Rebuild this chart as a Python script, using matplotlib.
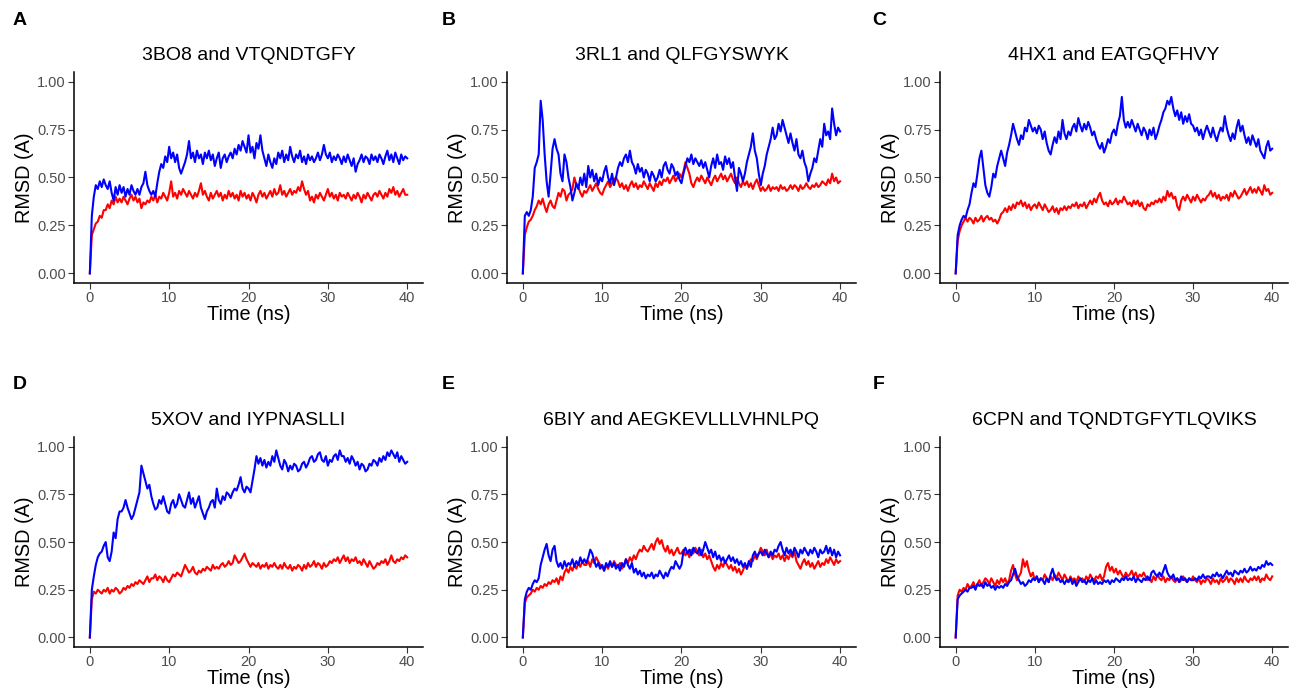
import numpy as np
import matplotlib.pyplot as plt

plt.rcParams['font.family'] = ['Liberation Sans', 'DejaVu Sans']

# time grid, 0.25 ns steps
t = np.linspace(0, 40, 161)

letters = ['A', 'B', 'C', 'D', 'E', 'F']
titles = ['3BO8 and VTQNDTGFY', '3RL1 and QLFGYSWYK', '4HX1 and EATGQFHVY',
          '5XOV and IYPNASLLI', '6BIY and AEGKEVLLLVHNLPQ', '6CPN and TQNDTGFYTLQVIKS']
yticks = [0.00, 0.25, 0.50, 0.75, 1.00]
ytick_labels = ['0.00', '0.25', '0.50', '0.75', '1.00']
xticks = [0, 10, 20, 30, 40]

# panel A
a_blue = [0.00, 0.30, 0.40, 0.46, 0.44, 0.48, 0.45, 0.49,
          0.46, 0.44, 0.48, 0.42, 0.38, 0.45, 0.41, 0.46,
          0.42, 0.45, 0.40, 0.44, 0.41, 0.46, 0.43, 0.41,
          0.44, 0.41, 0.45, 0.47, 0.53, 0.46, 0.43, 0.41,
          0.43, 0.40, 0.47, 0.53, 0.57, 0.55, 0.61, 0.58,
          0.66, 0.60, 0.63, 0.58, 0.62, 0.55, 0.52, 0.55,
          0.58, 0.62, 0.69, 0.60, 0.63, 0.58, 0.64, 0.60,
          0.62, 0.57, 0.63, 0.60, 0.64, 0.59, 0.62, 0.56,
          0.60, 0.63, 0.55, 0.60, 0.62, 0.58, 0.61, 0.63,
          0.60, 0.65, 0.62, 0.67, 0.64, 0.69, 0.66, 0.63,
          0.72, 0.63, 0.66, 0.60, 0.68, 0.65, 0.72, 0.64,
          0.60, 0.56, 0.62, 0.58, 0.55, 0.60, 0.57, 0.63,
          0.60, 0.64, 0.58, 0.62, 0.59, 0.66, 0.61, 0.58,
          0.62, 0.60, 0.64, 0.58, 0.61, 0.57, 0.62, 0.59,
          0.61, 0.58, 0.60, 0.63, 0.59, 0.62, 0.67, 0.62,
          0.60, 0.63, 0.58, 0.61, 0.59, 0.62, 0.60, 0.57,
          0.61, 0.58, 0.62, 0.59, 0.56, 0.60, 0.53, 0.57,
          0.59, 0.62, 0.58, 0.61, 0.60, 0.57, 0.62, 0.59,
          0.61, 0.58, 0.62, 0.60, 0.57, 0.61, 0.64, 0.59,
          0.62, 0.58, 0.63, 0.60, 0.57, 0.62, 0.59, 0.61,
          0.60]
a_red = [0.00, 0.20, 0.23, 0.26, 0.27, 0.30, 0.29, 0.33,
         0.33, 0.36, 0.34, 0.38, 0.36, 0.40, 0.37, 0.39,
         0.37, 0.40, 0.38, 0.36, 0.39, 0.41, 0.38, 0.40,
         0.37, 0.39, 0.34, 0.37, 0.36, 0.38, 0.37, 0.40,
         0.38, 0.41, 0.37, 0.40, 0.39, 0.42, 0.40, 0.38,
         0.42, 0.48, 0.40, 0.42, 0.39, 0.43, 0.41, 0.44,
         0.42, 0.40, 0.43, 0.41, 0.39, 0.42, 0.40, 0.43,
         0.47, 0.41, 0.43, 0.40, 0.38, 0.42, 0.39, 0.41,
         0.43, 0.40, 0.42, 0.38, 0.41, 0.39, 0.43, 0.40,
         0.42, 0.39, 0.41, 0.38, 0.43, 0.40, 0.42, 0.39,
         0.41, 0.38, 0.42, 0.40, 0.37, 0.41, 0.43, 0.40,
         0.42, 0.39, 0.41, 0.43, 0.40, 0.44, 0.41, 0.42,
         0.46, 0.41, 0.43, 0.40, 0.42, 0.44, 0.41, 0.43,
         0.42, 0.45, 0.43, 0.48, 0.44, 0.41, 0.43, 0.38,
         0.40, 0.37, 0.41, 0.39, 0.42, 0.40, 0.38, 0.41,
         0.44, 0.40, 0.42, 0.39, 0.41, 0.38, 0.42, 0.40,
         0.41, 0.39, 0.42, 0.40, 0.38, 0.41, 0.39, 0.42,
         0.40, 0.37, 0.41, 0.39, 0.42, 0.40, 0.38, 0.41,
         0.42, 0.40, 0.43, 0.41, 0.39, 0.42, 0.40, 0.44,
         0.42, 0.45, 0.41, 0.43, 0.40, 0.42, 0.44, 0.41,
         0.41]

# panel B
b_blue = [0.00, 0.30, 0.32, 0.30, 0.33, 0.40, 0.55, 0.58,
          0.62, 0.90, 0.80, 0.62, 0.48, 0.40, 0.52, 0.65,
          0.70, 0.65, 0.62, 0.52, 0.48, 0.62, 0.58, 0.50,
          0.45, 0.38, 0.42, 0.47, 0.44, 0.50, 0.46, 0.52,
          0.45, 0.56, 0.50, 0.54, 0.48, 0.52, 0.46, 0.50,
          0.48, 0.53, 0.56, 0.50, 0.47, 0.52, 0.46, 0.50,
          0.55, 0.58, 0.56, 0.60, 0.62, 0.58, 0.64, 0.58,
          0.56, 0.52, 0.57, 0.53, 0.55, 0.50, 0.54, 0.52,
          0.48, 0.53, 0.51, 0.48, 0.50, 0.54, 0.50, 0.56,
          0.58, 0.54, 0.52, 0.57, 0.55, 0.51, 0.53, 0.49,
          0.47, 0.52, 0.56, 0.60, 0.58, 0.62, 0.57, 0.60,
          0.58, 0.56, 0.59, 0.55, 0.58, 0.54, 0.50, 0.56,
          0.60, 0.55, 0.62, 0.57, 0.58, 0.54, 0.61, 0.57,
          0.60, 0.55, 0.58, 0.50, 0.43, 0.55, 0.52, 0.48,
          0.52, 0.58, 0.62, 0.66, 0.73, 0.64, 0.60, 0.52,
          0.46, 0.52, 0.56, 0.62, 0.66, 0.70, 0.76, 0.70,
          0.72, 0.78, 0.74, 0.80, 0.76, 0.72, 0.68, 0.73,
          0.68, 0.64, 0.70, 0.62, 0.60, 0.64, 0.58, 0.55,
          0.48, 0.52, 0.55, 0.60, 0.58, 0.64, 0.70, 0.66,
          0.78, 0.72, 0.74, 0.70, 0.86, 0.78, 0.72, 0.76,
          0.74]
b_red = [0.00, 0.20, 0.24, 0.27, 0.28, 0.30, 0.33, 0.35,
         0.38, 0.36, 0.39, 0.35, 0.32, 0.36, 0.38, 0.35,
         0.34, 0.38, 0.42, 0.40, 0.44, 0.43, 0.38, 0.41,
         0.42, 0.44, 0.50, 0.46, 0.45, 0.42, 0.40, 0.43,
         0.42, 0.44, 0.46, 0.43, 0.45, 0.47, 0.44, 0.42,
         0.41, 0.44, 0.46, 0.48, 0.45, 0.47, 0.49, 0.50,
         0.48, 0.45, 0.47, 0.44, 0.46, 0.43, 0.46, 0.48,
         0.45, 0.47, 0.44, 0.46, 0.45, 0.48, 0.46, 0.44,
         0.47, 0.45, 0.43, 0.47, 0.45, 0.48, 0.46, 0.49,
         0.48, 0.50, 0.47, 0.49, 0.51, 0.48, 0.50, 0.52,
         0.50, 0.53, 0.58, 0.55, 0.52, 0.47, 0.45, 0.48,
         0.50, 0.48, 0.51, 0.49, 0.47, 0.50, 0.48, 0.46,
         0.49, 0.51, 0.48, 0.50, 0.52, 0.49, 0.51, 0.48,
         0.50, 0.52, 0.49, 0.47, 0.50, 0.47, 0.45, 0.48,
         0.46, 0.48, 0.45, 0.47, 0.44, 0.47, 0.49, 0.46,
         0.43, 0.45, 0.43, 0.44, 0.46, 0.43, 0.45, 0.44,
         0.45, 0.43, 0.46, 0.44, 0.45, 0.43, 0.44, 0.46,
         0.44, 0.46, 0.45, 0.43, 0.46, 0.44, 0.45, 0.47,
         0.45, 0.44, 0.46, 0.45, 0.47, 0.45, 0.46, 0.48,
         0.47, 0.46, 0.49, 0.47, 0.52, 0.48, 0.50, 0.47,
         0.48]

# panel C
c_blue = [0.00, 0.20, 0.25, 0.28, 0.30, 0.29, 0.33, 0.36,
          0.42, 0.47, 0.45, 0.52, 0.60, 0.64, 0.55, 0.46,
          0.42, 0.40, 0.45, 0.52, 0.50, 0.56, 0.60, 0.64,
          0.60, 0.56, 0.63, 0.67, 0.72, 0.78, 0.74, 0.70,
          0.67, 0.72, 0.70, 0.76, 0.74, 0.80, 0.77, 0.74,
          0.76, 0.73, 0.77, 0.75, 0.70, 0.74, 0.68, 0.64,
          0.62, 0.67, 0.71, 0.68, 0.74, 0.70, 0.80, 0.73,
          0.70, 0.74, 0.72, 0.76, 0.78, 0.74, 0.81, 0.77,
          0.74, 0.78, 0.75, 0.79, 0.76, 0.72, 0.74, 0.70,
          0.67, 0.65, 0.68, 0.63, 0.66, 0.70, 0.68, 0.73,
          0.75, 0.72, 0.78, 0.82, 0.92, 0.80, 0.76, 0.79,
          0.76, 0.80, 0.77, 0.74, 0.78, 0.75, 0.72, 0.76,
          0.74, 0.70, 0.75, 0.72, 0.76, 0.70, 0.73, 0.77,
          0.80, 0.84, 0.86, 0.90, 0.88, 0.92, 0.86, 0.82,
          0.85, 0.80, 0.84, 0.78, 0.82, 0.79, 0.83, 0.78,
          0.77, 0.74, 0.76, 0.72, 0.75, 0.70, 0.74, 0.77,
          0.74, 0.71, 0.76, 0.72, 0.69, 0.73, 0.76, 0.74,
          0.82, 0.76, 0.72, 0.69, 0.73, 0.70, 0.76, 0.80,
          0.74, 0.77, 0.72, 0.68, 0.71, 0.67, 0.72, 0.69,
          0.66, 0.70, 0.64, 0.62, 0.60, 0.66, 0.69, 0.64,
          0.65]
c_red = [0.00, 0.17, 0.22, 0.25, 0.27, 0.29, 0.27, 0.29,
         0.28, 0.26, 0.29, 0.27, 0.28, 0.30, 0.27, 0.29,
         0.30, 0.28, 0.29, 0.27, 0.28, 0.26, 0.28, 0.31,
         0.32, 0.34, 0.32, 0.35, 0.33, 0.36, 0.34, 0.37,
         0.36, 0.38, 0.35, 0.37, 0.34, 0.36, 0.33, 0.35,
         0.36, 0.34, 0.37, 0.35, 0.33, 0.36, 0.34, 0.32,
         0.33, 0.35, 0.32, 0.34, 0.31, 0.34, 0.33, 0.35,
         0.33, 0.35, 0.34, 0.36, 0.35, 0.37, 0.34, 0.36,
         0.35, 0.37, 0.34, 0.36, 0.38, 0.36, 0.39, 0.37,
         0.40, 0.42, 0.38, 0.36, 0.37, 0.35, 0.38, 0.36,
         0.37, 0.39, 0.36, 0.38, 0.37, 0.40, 0.38, 0.36,
         0.37, 0.35, 0.38, 0.36, 0.38, 0.35, 0.37, 0.34,
         0.33, 0.36, 0.35, 0.37, 0.36, 0.38, 0.37, 0.39,
         0.37, 0.40, 0.38, 0.43, 0.40, 0.42, 0.39, 0.40,
         0.35, 0.33, 0.38, 0.40, 0.38, 0.41, 0.39, 0.37,
         0.40, 0.38, 0.41, 0.39, 0.37, 0.39, 0.38, 0.40,
         0.41, 0.43, 0.40, 0.42, 0.39, 0.41, 0.38, 0.40,
         0.39, 0.41, 0.38, 0.42, 0.40, 0.43, 0.41, 0.39,
         0.40, 0.42, 0.44, 0.41, 0.43, 0.45, 0.42, 0.44,
         0.42, 0.45, 0.43, 0.41, 0.46, 0.43, 0.44, 0.41,
         0.42]

# panel D
d_blue = [0.00, 0.25, 0.32, 0.38, 0.42, 0.44, 0.45, 0.48,
          0.50, 0.42, 0.40, 0.45, 0.55, 0.52, 0.62, 0.66,
          0.66, 0.68, 0.72, 0.68, 0.65, 0.62, 0.64, 0.68,
          0.72, 0.76, 0.90, 0.86, 0.82, 0.78, 0.80, 0.74,
          0.70, 0.67, 0.68, 0.72, 0.70, 0.74, 0.70, 0.66,
          0.65, 0.70, 0.72, 0.68, 0.70, 0.75, 0.72, 0.69,
          0.68, 0.72, 0.76, 0.70, 0.73, 0.68, 0.71, 0.74,
          0.68, 0.65, 0.62, 0.66, 0.68, 0.71, 0.72, 0.68,
          0.78, 0.72, 0.70, 0.74, 0.72, 0.76, 0.75, 0.73,
          0.76, 0.78, 0.77, 0.80, 0.84, 0.78, 0.76, 0.79,
          0.78, 0.76, 0.82, 0.88, 0.95, 0.91, 0.94, 0.90,
          0.93, 0.89, 0.92, 0.90, 0.95, 0.92, 0.98, 0.94,
          0.90, 0.88, 0.93, 0.91, 0.87, 0.90, 0.88, 0.91,
          0.90, 0.87, 0.88, 0.91, 0.92, 0.89, 0.91, 0.94,
          0.95, 0.92, 0.93, 0.96, 0.97, 0.93, 0.92, 0.95,
          0.90, 0.93, 0.92, 0.95, 0.96, 0.93, 0.98, 0.95,
          0.95, 0.92, 0.94, 0.91, 0.95, 0.93, 0.90, 0.92,
          0.88, 0.91, 0.90, 0.87, 0.88, 0.91, 0.90, 0.93,
          0.92, 0.90, 0.94, 0.92, 0.95, 0.93, 0.97, 0.95,
          0.98, 0.96, 0.94, 0.97, 0.92, 0.95, 0.93, 0.91,
          0.92]
d_red = [0.00, 0.20, 0.24, 0.23, 0.25, 0.24, 0.23, 0.25,
         0.24, 0.26, 0.23, 0.25, 0.24, 0.26, 0.25, 0.23,
         0.24, 0.26, 0.25, 0.27, 0.26, 0.28, 0.27, 0.29,
         0.28, 0.30, 0.29, 0.28, 0.30, 0.32, 0.29, 0.31,
         0.31, 0.33, 0.30, 0.32, 0.31, 0.29, 0.32, 0.30,
         0.29, 0.31, 0.33, 0.32, 0.34, 0.33, 0.32, 0.35,
         0.38, 0.36, 0.34, 0.35, 0.37, 0.34, 0.33, 0.35,
         0.34, 0.36, 0.35, 0.37, 0.36, 0.35, 0.38, 0.36,
         0.37, 0.36, 0.38, 0.39, 0.37, 0.38, 0.40, 0.38,
         0.39, 0.43, 0.41, 0.39, 0.40, 0.42, 0.44, 0.41,
         0.39, 0.37, 0.39, 0.38, 0.37, 0.39, 0.36, 0.38,
         0.37, 0.39, 0.36, 0.38, 0.37, 0.39, 0.37, 0.36,
         0.38, 0.36, 0.39, 0.37, 0.36, 0.38, 0.35, 0.37,
         0.36, 0.38, 0.37, 0.35, 0.38, 0.36, 0.39, 0.37,
         0.38, 0.40, 0.37, 0.39, 0.38, 0.36, 0.39, 0.37,
         0.38, 0.40, 0.39, 0.41, 0.40, 0.42, 0.39, 0.41,
         0.43, 0.40, 0.42, 0.39, 0.41, 0.40, 0.42, 0.39,
         0.40, 0.38, 0.41, 0.39, 0.37, 0.40, 0.38, 0.36,
         0.37, 0.39, 0.38, 0.40, 0.39, 0.41, 0.38, 0.40,
         0.43, 0.40, 0.39, 0.41, 0.40, 0.42, 0.41, 0.43,
         0.42]

# panel E
e_blue = [0.00, 0.20, 0.24, 0.26, 0.25, 0.28, 0.30, 0.29,
          0.31, 0.38, 0.42, 0.46, 0.49, 0.43, 0.40, 0.46,
          0.48, 0.40, 0.37, 0.39, 0.36, 0.40, 0.37, 0.39,
          0.38, 0.41, 0.37, 0.40, 0.38, 0.42, 0.39, 0.41,
          0.39, 0.42, 0.46, 0.44, 0.40, 0.37, 0.39, 0.36,
          0.38, 0.35, 0.39, 0.37, 0.40, 0.37, 0.39, 0.36,
          0.38, 0.35, 0.39, 0.37, 0.41, 0.38, 0.36, 0.39,
          0.34, 0.36, 0.33, 0.35, 0.32, 0.34, 0.31, 0.33,
          0.32, 0.34, 0.31, 0.33, 0.32, 0.35, 0.33, 0.31,
          0.34, 0.32, 0.35, 0.37, 0.36, 0.40, 0.38, 0.36,
          0.38, 0.45, 0.47, 0.44, 0.46, 0.43, 0.47, 0.45,
          0.44, 0.47, 0.43, 0.46, 0.50, 0.47, 0.44, 0.46,
          0.42, 0.45, 0.41, 0.43, 0.40, 0.42, 0.39, 0.41,
          0.43, 0.40, 0.42, 0.39, 0.41, 0.38, 0.40, 0.37,
          0.39, 0.36, 0.40, 0.37, 0.43, 0.45, 0.42, 0.44,
          0.45, 0.43, 0.46, 0.44, 0.42, 0.45, 0.43, 0.46,
          0.45, 0.48, 0.50, 0.46, 0.43, 0.47, 0.44, 0.46,
          0.43, 0.47, 0.45, 0.42, 0.46, 0.44, 0.47, 0.45,
          0.43, 0.46, 0.44, 0.47, 0.45, 0.42, 0.46, 0.44,
          0.45, 0.48, 0.44, 0.47, 0.43, 0.46, 0.42, 0.45,
          0.43]
e_red = [0.00, 0.18, 0.21, 0.22, 0.23, 0.25, 0.24, 0.26,
         0.25, 0.27, 0.26, 0.28, 0.27, 0.29, 0.28, 0.30,
         0.29, 0.31, 0.28, 0.32, 0.30, 0.34, 0.36, 0.34,
         0.37, 0.35, 0.38, 0.36, 0.39, 0.37, 0.40, 0.38,
         0.38, 0.40, 0.37, 0.41, 0.39, 0.42, 0.40, 0.38,
         0.37, 0.35, 0.38, 0.36, 0.39, 0.37, 0.40, 0.38,
         0.37, 0.39, 0.36, 0.38, 0.41, 0.39, 0.42, 0.40,
         0.43, 0.41, 0.44, 0.46, 0.45, 0.48, 0.46, 0.45,
         0.47, 0.49, 0.46, 0.50, 0.52, 0.49, 0.51, 0.47,
         0.45, 0.48, 0.44, 0.46, 0.43, 0.45, 0.47, 0.44,
         0.44, 0.46, 0.43, 0.45, 0.42, 0.46, 0.44, 0.47,
         0.45, 0.43, 0.46, 0.42, 0.44, 0.41, 0.43, 0.40,
         0.37, 0.35, 0.38, 0.36, 0.39, 0.37, 0.40, 0.38,
         0.36, 0.38, 0.35, 0.37, 0.34, 0.36, 0.33, 0.35,
         0.38, 0.36, 0.39, 0.41, 0.40, 0.43, 0.41, 0.44,
         0.47, 0.45, 0.43, 0.46, 0.42, 0.44, 0.41, 0.43,
         0.42, 0.44, 0.41, 0.43, 0.40, 0.43, 0.41, 0.44,
         0.42, 0.45, 0.40, 0.38, 0.36, 0.39, 0.41, 0.38,
         0.40, 0.37, 0.39, 0.36, 0.38, 0.40, 0.37, 0.39,
         0.38, 0.41, 0.39, 0.42, 0.40, 0.38, 0.41, 0.39,
         0.40]

# panel F
f_blue = [0.00, 0.20, 0.22, 0.23, 0.24, 0.25, 0.24, 0.26,
          0.26, 0.27, 0.25, 0.28, 0.27, 0.28, 0.26, 0.29,
          0.27, 0.28, 0.26, 0.27, 0.25, 0.27, 0.26, 0.27,
          0.26, 0.28, 0.27, 0.29, 0.30, 0.33, 0.36, 0.32,
          0.30, 0.28, 0.29, 0.27, 0.28, 0.30, 0.29, 0.31,
          0.30, 0.32, 0.29, 0.31, 0.30, 0.28, 0.31, 0.29,
          0.33, 0.36, 0.32, 0.30, 0.31, 0.29, 0.30, 0.28,
          0.30, 0.29, 0.31, 0.28, 0.30, 0.27, 0.29, 0.31,
          0.29, 0.30, 0.28, 0.30, 0.29, 0.31, 0.28, 0.30,
          0.28, 0.29, 0.28, 0.30, 0.29, 0.30, 0.28, 0.30,
          0.29, 0.31, 0.30, 0.29, 0.31, 0.30, 0.32, 0.30,
          0.31, 0.30, 0.32, 0.29, 0.31, 0.30, 0.29, 0.31,
          0.30, 0.32, 0.30, 0.34, 0.35, 0.33, 0.32, 0.34,
          0.32, 0.35, 0.38, 0.34, 0.32, 0.31, 0.33, 0.30,
          0.31, 0.29, 0.32, 0.30, 0.31, 0.29, 0.31, 0.30,
          0.30, 0.31, 0.30, 0.32, 0.31, 0.33, 0.31, 0.32,
          0.32, 0.31, 0.33, 0.32, 0.34, 0.32, 0.33, 0.31,
          0.33, 0.35, 0.33, 0.34, 0.32, 0.35, 0.34, 0.33,
          0.35, 0.34, 0.36, 0.34, 0.35, 0.37, 0.35, 0.36,
          0.35, 0.37, 0.36, 0.38, 0.37, 0.40, 0.38, 0.39,
          0.38]
f_red = [0.00, 0.22, 0.25, 0.24, 0.26, 0.25, 0.28, 0.26,
         0.27, 0.29, 0.26, 0.28, 0.30, 0.27, 0.29, 0.31,
         0.30, 0.28, 0.31, 0.29, 0.27, 0.30, 0.28, 0.31,
         0.29, 0.31, 0.28, 0.30, 0.35, 0.38, 0.33, 0.30,
         0.32, 0.34, 0.41, 0.37, 0.40, 0.35, 0.32, 0.34,
         0.30, 0.32, 0.29, 0.31, 0.30, 0.33, 0.31, 0.29,
         0.32, 0.30, 0.33, 0.31, 0.34, 0.32, 0.30, 0.33,
         0.31, 0.29, 0.32, 0.30, 0.31, 0.29, 0.32, 0.30,
         0.31, 0.29, 0.32, 0.30, 0.33, 0.31, 0.30, 0.32,
         0.31, 0.33, 0.30, 0.32, 0.37, 0.39, 0.35, 0.37,
         0.34, 0.36, 0.33, 0.35, 0.33, 0.31, 0.34, 0.32,
         0.33, 0.35, 0.32, 0.34, 0.31, 0.33, 0.32, 0.34,
         0.32, 0.30, 0.31, 0.29, 0.32, 0.30, 0.33, 0.31,
         0.30, 0.32, 0.29, 0.31, 0.30, 0.32, 0.30, 0.29,
         0.31, 0.29, 0.30, 0.32, 0.30, 0.29, 0.31, 0.30,
         0.32, 0.30, 0.29, 0.31, 0.28, 0.30, 0.29, 0.31,
         0.30, 0.28, 0.31, 0.29, 0.30, 0.28, 0.31, 0.29,
         0.30, 0.32, 0.29, 0.31, 0.30, 0.28, 0.31, 0.29,
         0.31, 0.29, 0.32, 0.30, 0.29, 0.31, 0.30, 0.32,
         0.30, 0.32, 0.29, 0.31, 0.30, 0.33, 0.31, 0.30,
         0.32]

reds = [a_red, b_red, c_red, d_red, e_red, f_red]
blues = [a_blue, b_blue, c_blue, d_blue, e_blue, f_blue]

fig = plt.figure(figsize=(12.91, 6.97), dpi=100)

# axes boxes in figure fractions
lefts = [0.0573, 0.3927, 0.728]
rights = [0.3277, 0.663, 0.9977]
bottoms = [0.594, 0.0717]
tops = [0.8967, 0.373]
letter_x = [0.010, 0.342, 0.676]
letter_y = [0.971, 0.448]

for i in range(6):
    r, c = divmod(i, 3)
    ax = fig.add_axes([lefts[c], bottoms[r], rights[c] - lefts[c], tops[r] - bottoms[r]])
    ax.plot(t, reds[i], color='#FF0000', lw=1.5)
    ax.plot(t, blues[i], color='#0000FF', lw=1.5)
    ax.set_xlim(-2, 42)
    ax.set_ylim(-0.05, 1.05)
    ax.set_xticks(xticks)
    ax.set_yticks(yticks)
    ax.set_yticklabels(ytick_labels)
    ax.set_title(titles[i], fontsize=14, pad=9)
    ax.set_xlabel('Time (ns)', fontsize=14.3, labelpad=0)
    ax.set_ylabel('RMSD (A)', fontsize=14.3, labelpad=2)
    ax.spines['top'].set_visible(False)
    ax.spines['right'].set_visible(False)
    ax.spines['left'].set_linewidth(1.1)
    ax.spines['bottom'].set_linewidth(1.1)
    ax.tick_params(labelsize=10.5, labelcolor='#4D4D4D', color='#333333',
                   length=4, width=0.8, pad=2)
    fig.text(letter_x[c], letter_y[r], letters[i], fontsize=14, fontweight='bold',
             va='center', ha='left')

plt.savefig('out.png', dpi=100)
